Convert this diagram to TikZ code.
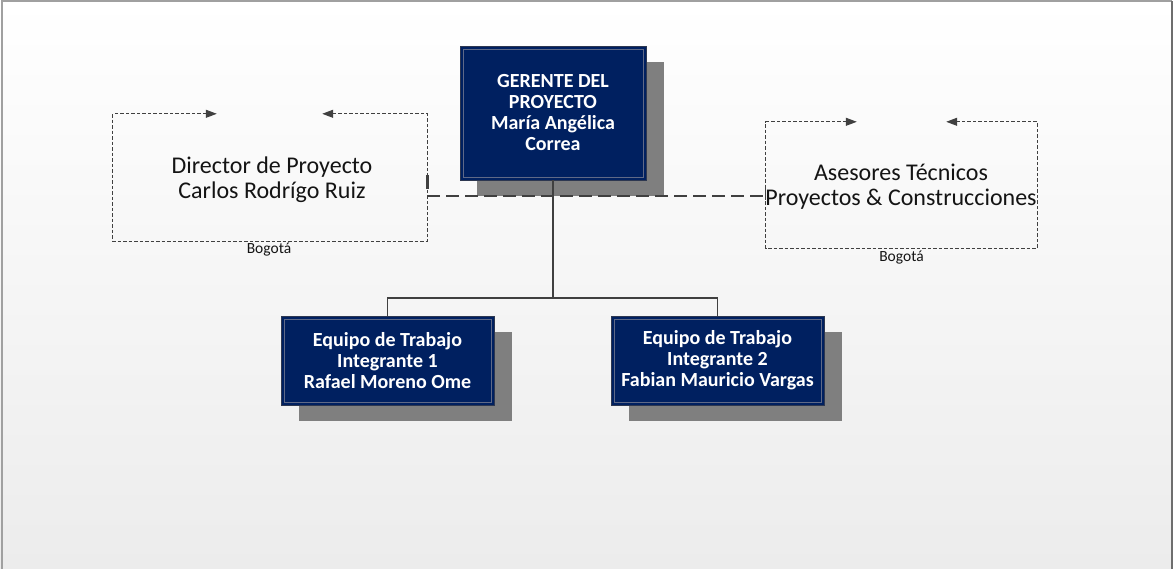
\documentclass[tikz,border=0pt]{standalone}
\usepackage{fontspec}
\setmainfont{Carlito}
\usetikzlibrary{arrows.meta,calc}
\definecolor{navy}{RGB}{0,32,96}
\definecolor{shadowgrey}{RGB}{127,127,127}
\definecolor{framegrey}{RGB}{160,160,160}
\definecolor{framedark}{RGB}{110,110,110}
\definecolor{linegrey}{RGB}{64,64,64}
\definecolor{innerline}{RGB}{95,105,135}
\definecolor{navyborder}{RGB}{45,55,80}
\definecolor{textdark}{RGB}{20,20,20}
\definecolor{bgbottom}{RGB}{236,236,236}
\tikzset{
  navybox/.style={fill=navy, draw=navyborder, line width=0.8pt, text=white,
    font=\fontsize{20}{21}\selectfont\bfseries, align=center, inner sep=0pt},
  dashbox/.style={inner sep=0pt, align=center, font=\fontsize{24}{24.5}\selectfont, text=textdark},
  dashline/.style={draw=linegrey, line width=1pt, dash pattern=on 3.5pt off 2pt},
  bothtips/.style={{Triangle[length=11pt,width=8pt]}-{Triangle[length=11pt,width=8pt]}},
  conn/.style={draw=linegrey, line width=1.2pt},
  dconn/.style={draw=linegrey, line width=2.5pt, dash pattern=on 13pt off 6pt},
  city/.style={font=\fontsize{15.5}{16}\selectfont, inner sep=0pt, text=textdark}
}
\begin{document}
\begin{tikzpicture}[x=1pt,y=-1pt]
\useasboundingbox (0,0) rectangle (1173,569);
% background
\shade[top color=white, bottom color=bgbottom] (0,0) rectangle (1173,569);
\draw[framegrey, line width=2pt] (1.5,569) -- (1.5,1) -- (1171.5,1);
\draw[framedark, line width=2pt] (1171.5,1) -- (1171.5,569);

% shadows
\fill[shadowgrey] (477,62) rectangle (664,196);
\fill[shadowgrey] (299,332) rectangle (512,421);
\fill[shadowgrey] (629,332) rectangle (842,421);

% advisers
\node[dashbox, minimum width=314pt, minimum height=127pt] (dir) at (270,177.5) {};
\node[dashbox] (dirt) at (272,179.5) {Director de Proyecto\\Carlos Rodrígo Ruiz};
\node[dashbox, minimum width=271pt, minimum height=126pt] (ase) at (901.5,185) {};
\node[dashbox] (aset) at (901,186.5) {Asesores Técnicos\\Proyectos \& Construcciones};
\draw[dconn] ($(dir.east)+(0,18.5)$) -- ($(ase.west)+(0,11)$);
\draw[linegrey, line width=3pt] ($(dir.east)+(0,-2)$) -- ($(dir.east)+(0,12)$);
\draw[linegrey, line width=1pt] ($(ase.west)+(0,0)$) -- ($(ase.west)+(0,15)$);

% dashed outlines
\draw[dashline, bothtips]
  ($(dir.north west)+(104,0)$) -- (dir.north west) -- (dir.south west) -- (dir.south east) -- (dir.north east) -- ($(dir.north east)+(-105,0)$);
\draw[dashline, bothtips]
  ($(ase.north west)+(91,0)$) -- (ase.north west) -- (ase.south west) -- (ase.south east) -- (ase.north east) -- ($(ase.north east)+(-91,0)$);
\node[city] (b1) at ($(dir.south)+(-1,8)$) {Bogotá};
\node[city] (b2) at ($(ase.south)+(0,9)$) {Bogotá};

% main boxes
\node[navybox, minimum width=186pt, minimum height=134pt] (ger) at (553,113) {GERENTE DEL\\PROYECTO\\María Angélica\\Correa};
\node[navybox, minimum width=213pt, minimum height=89pt] (eq1) at (387.5,360.5) {Equipo de Trabajo\\Integrante 1\\Rafael Moreno Ome};
\node[navybox, minimum width=213pt, minimum height=89pt] (eq2) at (717.5,360.5) {Equipo de Trabajo\\Integrante 2\\Fabian Mauricio Vargas};
\foreach \n in {ger,eq1,eq2}{
  \draw[innerline, line width=0.6pt] ($(\n.north west)+(3.5,3.5)$) rectangle ($(\n.south east)+(-3.5,-3.5)$);
}

% org lines
\coordinate (j) at (553,298);
\draw[conn] (ger.south) -- (j);
\draw[conn] (eq1.north) |- (j) -| (eq2.north);
\end{tikzpicture}
\end{document}
